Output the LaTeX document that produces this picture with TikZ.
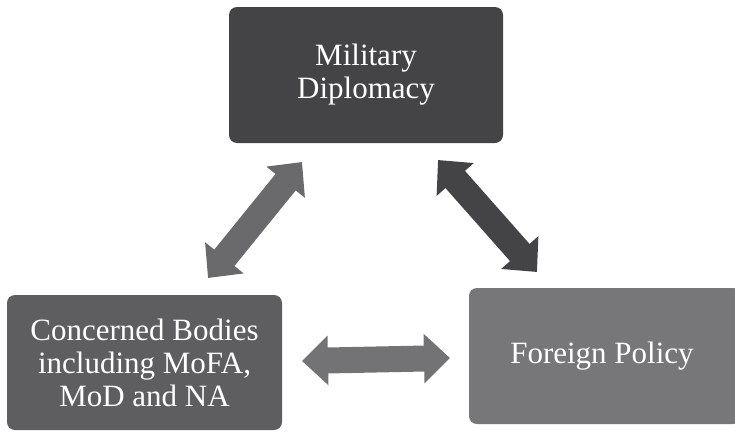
\documentclass[tikz,border=0pt]{standalone}
\usepackage{fontspec}
\setmainfont{Liberation Serif}
\usepackage{tikz}
\usetikzlibrary{arrows.meta}
\definecolor{boxdark}{HTML}{444446}
\definecolor{boxmid}{HTML}{5E5E60}
\definecolor{boxlight}{HTML}{77777A}
\definecolor{arrmid}{HTML}{6A6A6C}
\definecolor{arrlight}{HTML}{737375}
\tikzset{
  box/.style={rectangle, rounded corners=8pt, text=white, align=center,
    font=\fontsize{31}{33}\selectfont, inner sep=0pt},
  dbl/.style={line width=26pt,
    {Triangle[width=48pt,length=26pt]}-{Triangle[width=48pt,length=26pt]}}
}

\begin{document}
\begin{tikzpicture}[x=1pt,y=-1pt]
  \useasboundingbox (0,0) rectangle (735,431);

  \node[box, fill=boxdark, minimum width=274pt, minimum height=136pt] (md) at (366,75)
    {Military\\Diplomacy};
  \node[box, fill=boxmid, minimum width=275pt, minimum height=135pt] (cb) at (144.5,362.5)
    {Concerned Bodies\\including MoFA,\\MoD and NA};
  \node[box, fill=boxlight, minimum width=272pt, minimum height=136pt] (fp) at (605,356)
    {\hspace*{-6pt}Foreign Policy};

  % arrow tips
  \coordinate (cbtop) at (208,278);
  \coordinate (mdleft) at (302,162);
  \coordinate (mdright) at (438,160);
  \coordinate (fptop) at (537,272);
  \coordinate (cbright) at (302,361);
  \coordinate (fpleft) at (450,358);

  \draw[dbl, draw=arrmid, fill=arrmid] (cbtop) -- (mdleft);
  \draw[dbl, draw=boxdark, fill=boxdark] (mdright) -- (fptop);
  \draw[dbl, draw=arrlight, fill=arrlight] (cbright) -- (fpleft);
\end{tikzpicture}
\end{document}
